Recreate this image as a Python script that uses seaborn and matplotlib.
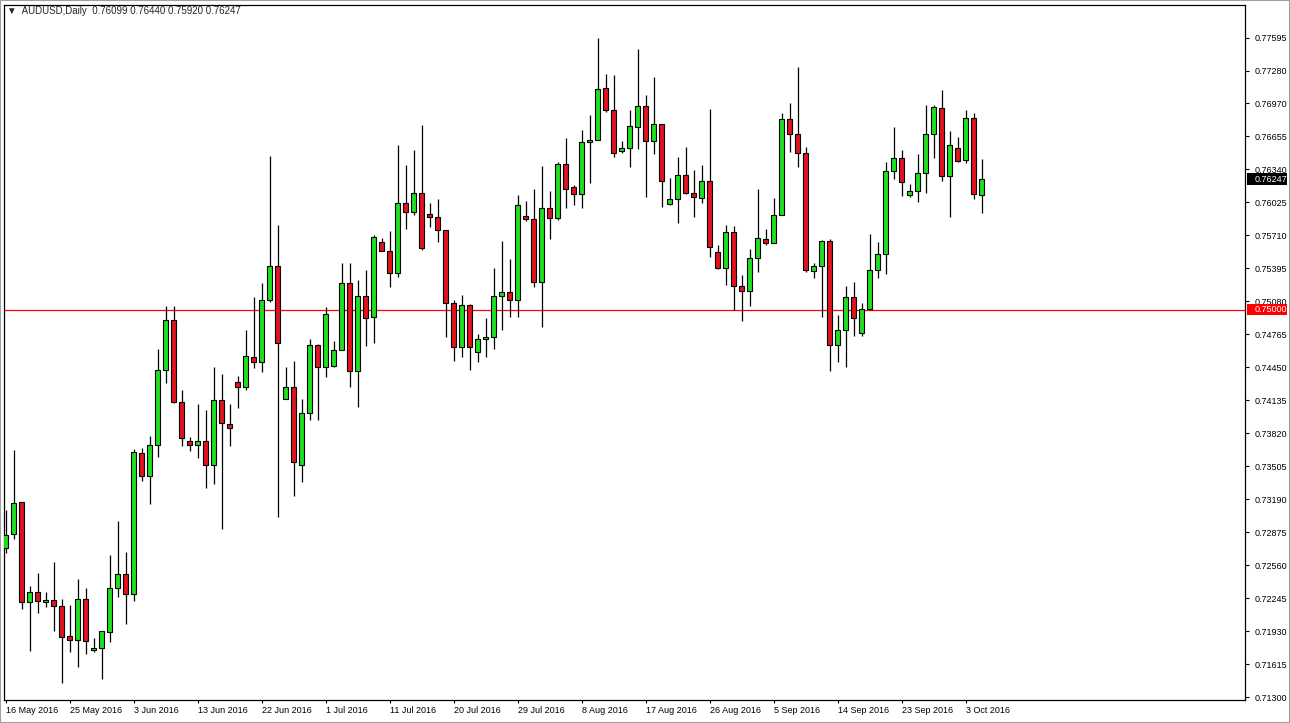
import pandas as pd
import matplotlib.pyplot as plt
from matplotlib.patches import Rectangle
from matplotlib.transforms import blended_transform_factory
import seaborn as sns

# AUDUSD daily bars, broker feed has Sunday sessions (no Saturdays)
dates = pd.date_range("2016-05-16", "2016-10-05")
dates = dates[dates.dayofweek != 5]

opens = [0.72725, 0.72858, 0.73164, 0.72209, 0.72304, 0.72209, 0.72228, 0.72171, 0.71884, 0.71846,
         0.72238, 0.71751, 0.71770, 0.71922, 0.72343, 0.72476, 0.72285, 0.73632, 0.73412, 0.73708,
         0.74425, 0.74902, 0.74119, 0.73746, 0.73708, 0.73746, 0.73517, 0.74138, 0.73909, 0.74310,
         0.74262, 0.74549, 0.74501, 0.75093, 0.75418, 0.74148, 0.74262, 0.73517, 0.74014, 0.74663,
         0.74453, 0.74463, 0.74616, 0.75255, 0.74415, 0.75131, 0.74931, 0.75647, 0.75561, 0.75351,
         0.76019, 0.75933, 0.76115, 0.75914, 0.75886, 0.75762, 0.75064, 0.74644, 0.75045, 0.74596,
         0.74721, 0.74740, 0.75131, 0.75169, 0.75093, 0.75895, 0.75867, 0.75265, 0.75972, 0.75876,
         0.76392, 0.76172, 0.76105, 0.76602, 0.76621, 0.77118, 0.76908, 0.76516, 0.76545, 0.76745,
         0.76946, 0.76611, 0.76774, 0.76010, 0.76058, 0.76287, 0.76115, 0.76067, 0.76229, 0.75552,
         0.75399, 0.75742, 0.75227, 0.75179, 0.75494, 0.75676, 0.75637, 0.75905, 0.76822, 0.76678,
         0.76497, 0.75370, 0.75418, 0.75656, 0.74663, 0.74807, 0.75122, 0.74778, 0.75007, 0.75380,
         0.75532, 0.76325, 0.76449, 0.76096, 0.76134, 0.76306, 0.76678, 0.76927, 0.76277, 0.76545,
         0.76430, 0.76831, 0.76099]
highs = [0.73088, 0.73661, 0.73164, 0.72362, 0.72486, 0.72304, 0.72591, 0.72238, 0.72180, 0.72429,
         0.72343, 0.71865, 0.71935, 0.72658, 0.72982, 0.72686, 0.73670, 0.73680, 0.73794, 0.74625,
         0.75036, 0.75036, 0.74234, 0.73785, 0.74100, 0.74043, 0.74453, 0.74386, 0.74100, 0.74367,
         0.74807, 0.75122, 0.75255, 0.76468, 0.75809, 0.74453, 0.74510, 0.74148, 0.74721, 0.74673,
         0.75026, 0.74701, 0.75446, 0.75446, 0.75284, 0.75380, 0.75714, 0.75685, 0.75752, 0.76573,
         0.76382, 0.76526, 0.76764, 0.76019, 0.76058, 0.75765, 0.75093, 0.75141, 0.75055, 0.74768,
         0.74921, 0.75399, 0.75656, 0.75485, 0.76096, 0.76038, 0.76153, 0.76373, 0.76134, 0.76411,
         0.76640, 0.76191, 0.76717, 0.76860, 0.77595, 0.77251, 0.77242, 0.76611, 0.76908, 0.77490,
         0.77051, 0.77223, 0.76774, 0.76258, 0.76459, 0.76554, 0.76335, 0.76382, 0.76917, 0.75618,
         0.75809, 0.75800, 0.75332, 0.75580, 0.76153, 0.75771, 0.76067, 0.76879, 0.76974, 0.77318,
         0.76554, 0.75446, 0.75666, 0.75676, 0.74950, 0.75227, 0.75265, 0.75064, 0.75723, 0.75647,
         0.76411, 0.76745, 0.76526, 0.76201, 0.76487, 0.76955, 0.76955, 0.77099, 0.76707, 0.76650,
         0.76908, 0.76879, 0.76440]
lows = [0.72677, 0.72811, 0.72142, 0.71741, 0.72104, 0.72161, 0.71932, 0.71435, 0.71731, 0.71588,
        0.71712, 0.71731, 0.71474, 0.71827, 0.72257, 0.71999, 0.72218, 0.73364, 0.73145, 0.73594,
        0.74300, 0.74110, 0.73699, 0.73651, 0.73584, 0.73298, 0.73336, 0.72906, 0.73699, 0.74062,
        0.74234, 0.74444, 0.74405, 0.75074, 0.73021, 0.74148, 0.73221, 0.73355, 0.73947, 0.73947,
        0.74358, 0.74453, 0.74616, 0.74262, 0.74071, 0.74654, 0.74682, 0.75561, 0.75217, 0.75313,
        0.75771, 0.75905, 0.75571, 0.75790, 0.75647, 0.74740, 0.74510, 0.74549, 0.74425, 0.74501,
        0.74549, 0.74625, 0.74807, 0.74931, 0.74931, 0.75848, 0.75217, 0.74835, 0.75676, 0.75857,
        0.75972, 0.76000, 0.75972, 0.76210, 0.76621, 0.76888, 0.76459, 0.76497, 0.76363, 0.76535,
        0.76077, 0.76487, 0.75981, 0.76000, 0.75828, 0.76105, 0.75886, 0.76019, 0.75504, 0.75389,
        0.75236, 0.74998, 0.74893, 0.75036, 0.75360, 0.75618, 0.75637, 0.75905, 0.76506, 0.76363,
        0.75360, 0.75303, 0.74931, 0.74415, 0.74501, 0.74453, 0.74750, 0.74750, 0.75007, 0.75303,
        0.75341, 0.76249, 0.76086, 0.76077, 0.76029, 0.76115, 0.76449, 0.76229, 0.75886, 0.76411,
        0.76401, 0.76058, 0.75920]
closes = [0.72849, 0.73154, 0.72209, 0.72304, 0.72218, 0.72228, 0.72171, 0.71875, 0.71846, 0.72238,
          0.71836, 0.71770, 0.71932, 0.72343, 0.72476, 0.72285, 0.73641, 0.73412, 0.73708, 0.74425,
          0.74902, 0.74119, 0.73775, 0.73708, 0.73746, 0.73517, 0.74138, 0.73918, 0.73871, 0.74262,
          0.74558, 0.74501, 0.75093, 0.75418, 0.74682, 0.74262, 0.73546, 0.74014, 0.74663, 0.74453,
          0.74959, 0.74616, 0.75255, 0.74415, 0.75131, 0.74921, 0.75695, 0.75561, 0.75351, 0.76019,
          0.75933, 0.76115, 0.75590, 0.75886, 0.75762, 0.75064, 0.74644, 0.75045, 0.74644, 0.74721,
          0.74740, 0.75131, 0.75169, 0.75093, 0.76000, 0.75867, 0.75265, 0.75972, 0.75876, 0.76392,
          0.76153, 0.76105, 0.76602, 0.76621, 0.77108, 0.76908, 0.76497, 0.76545, 0.76755, 0.76946,
          0.76611, 0.76774, 0.76229, 0.76058, 0.76287, 0.76115, 0.76077, 0.76229, 0.75599, 0.75399,
          0.75742, 0.75227, 0.75179, 0.75494, 0.75685, 0.75637, 0.75905, 0.76822, 0.76678, 0.76497,
          0.75380, 0.75418, 0.75656, 0.74663, 0.74807, 0.75122, 0.74921, 0.75007, 0.75380, 0.75532,
          0.76325, 0.76449, 0.76220, 0.76134, 0.76306, 0.76678, 0.76936, 0.76277, 0.76573, 0.76421,
          0.76831, 0.76105, 0.76247]

price_ticks = ["0.71300", "0.71615", "0.71930", "0.72245", "0.72560", "0.72875", "0.73190",
               "0.73505", "0.73820", "0.74135", "0.74450", "0.74765", "0.75080", "0.75395",
               "0.75710", "0.76025", "0.76340", "0.76655", "0.76970", "0.77280", "0.77595"]
level = 0.75000
symbol = "AUDUSD,Daily"

df = pd.DataFrame({"date": dates, "open": opens, "high": highs, "low": lows, "close": closes})
df["bar"] = range(len(df))
df["up"] = df["close"] >= df["open"]
df["body_low"] = df[["open", "close"]].min(axis=1)
df["body_h"] = (df["close"] - df["open"]).abs().clip(lower=0.00002)

sns.set_style("white")
plt.rcParams["font.family"] = ["Liberation Sans", "DejaVu Sans"]

fig = plt.figure(figsize=(12.9, 7.23), dpi=100)
ax = fig.add_axes([4 / 1290, 23 / 723, 1241 / 1290, 695 / 723])

# wicks
ax.vlines(df["bar"], df["low"], df["high"], color="black", lw=0.9, zorder=2)

# bodies
for up, col in [(True, "#1fe01f"), (False, "#e0141e")]:
    sub = df[df["up"] == up]
    sns.barplot(data=sub, x="bar", y="body_h", native_scale=True,
                bottom=sub["body_low"].to_numpy(), width=0.68, color=col,
                saturation=1, edgecolor="black", linewidth=0.8,
                errorbar=None, ax=ax, zorder=3)

ax.axhline(level, color="#ff0000", lw=0.9, zorder=1)

ax.set_xlim(-0.21, -0.21 + 1241 / 8)
ax.set_ylim(0.71272, 0.77910)
ax.set_xlabel("")
ax.set_ylabel("")

# price axis on the right
ax.yaxis.tick_right()
ax.set_yticks([float(t) for t in price_ticks])
ax.set_yticklabels(price_ticks)
ax.tick_params(axis="y", direction="out", length=3, width=0.8, pad=4,
               labelsize=6.5, colors="black", right=True)

# date axis
tick_bars = df["bar"][::8]
ax.set_xticks(tick_bars)
ax.set_xticklabels([f"{d.day} {d:%b %Y}" for d in df["date"][::8]], ha="left")
ax.tick_params(axis="x", direction="out", length=2, width=0.8, pad=2,
               labelsize=6.5, colors="black", bottom=True)

for s in ax.spines.values():
    s.set_color("black")
    s.set_linewidth(0.9)
    s.set_visible(True)

# price markers on the scale
tr = blended_transform_factory(ax.transAxes, ax.transData)
last = closes[-1]
for y, fc, txt in [(last, "black", f"{last:.5f}"), (level, "#ff0000", f"{level:.5f}")]:
    ax.add_patch(Rectangle((1.0016, y - 0.00054), 0.0325, 0.00108, transform=tr,
                           facecolor=fc, edgecolor="none", clip_on=False, zorder=5))
    ax.text(1.008, y, txt, transform=tr, color="white", fontsize=6.5,
            va="center", ha="left", zorder=6, clip_on=False)

ax.text(0.0025, 0.991,
        f"\u25bc  {symbol}  {opens[-1]:.5f} {highs[-1]:.5f} {lows[-1]:.5f} {closes[-1]:.5f}",
        transform=ax.transAxes, fontsize=7, va="center", ha="left",
        family=["Liberation Sans", "DejaVu Sans"])

fig.add_artist(Rectangle((0, 0), 1, 1, transform=fig.transFigure, fill=False,
                         edgecolor="#a0a0a0", lw=1.5))

plt.savefig("out.png", dpi=100)
